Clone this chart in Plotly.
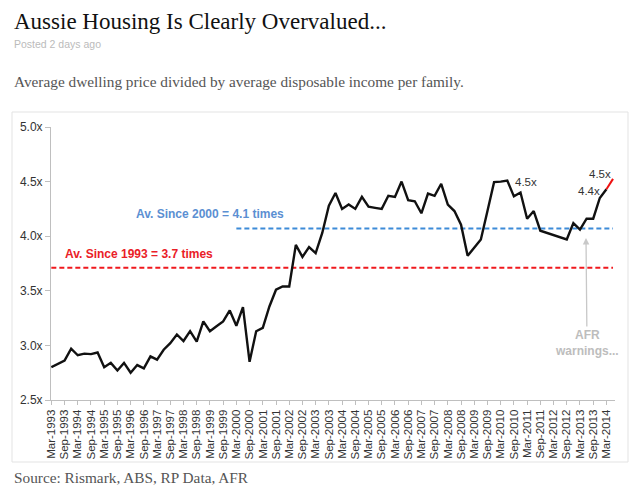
import plotly.graph_objects as go

# ---- data ----
years = list(range(1993, 2015))
months = ["Mar", "Jun", "Sep", "Dec"]
quarters = [f"{m}-{y}" for y in years for m in months][:86]  # Mar-1993 .. Jun-2014

ratio = [
    2.80, 2.83, 2.86, 2.97, 2.91, 2.925, 2.92, 2.935, 2.80, 2.84,
    2.77, 2.84, 2.75, 2.82, 2.79, 2.90, 2.87, 2.96, 3.02, 3.10,
    3.04, 3.13, 3.035, 3.22, 3.13, 3.175, 3.22, 3.32, 3.18, 3.35,
    2.85, 3.13, 3.16, 3.356, 3.51, 3.54, 3.54, 3.92, 3.81, 3.90,
    3.845, 4.03, 4.28, 4.396, 4.25, 4.29, 4.25, 4.36, 4.27, 4.26,
    4.25, 4.37, 4.36, 4.50, 4.33, 4.32, 4.21, 4.39, 4.37, 4.48,
    4.29, 4.23, 4.105, 3.82, 3.90, 3.97, 4.23, 4.495, 4.50, 4.51,
    4.365, 4.40, 4.16, 4.23, 4.05, 4.03, 4.01, 3.99, 3.97, 4.12,
    4.06, 4.16, 4.16, 4.35, 4.43, 4.525,
]

avg_since_1993 = 3.71
avg_since_2000 = 4.07
avg2000_start = "Mar-2000"

tick_labels = [q for q in quarters if q.startswith(("Mar", "Sep"))][:43]
y_ticks = [2.5, 3.0, 3.5, 4.0, 4.5, 5.0]
y_tick_text = ["2.5x", "3.0x", "3.5x", "4.0x", "4.5x", "5.0x"]

# ---- layout geometry (pixels) ----
W_PAGE, H_PAGE = 640, 494
L, R, T, B = 51, 615, 127, 400
PW, PH = R - L, B - T


def px(x):
    return (x - L) / PW


def py(y):
    return (B - y) / PH


fig = go.Figure()

# average lines
fig.add_trace(go.Scatter(
    x=[quarters[0], quarters[-1]], y=[avg_since_1993, avg_since_1993],
    mode="lines", line=dict(color="#f0191e", width=2, dash="5px,3px"),
    hoverinfo="skip", showlegend=False))
i2000 = quarters.index(avg2000_start)
fig.add_trace(go.Scatter(
    x=[quarters[i2000], quarters[-1]], y=[avg_since_2000, avg_since_2000],
    mode="lines", line=dict(color="#3d8bd8", width=2, dash="5px,3px"),
    hoverinfo="skip", showlegend=False))

# main series
fig.add_trace(go.Scatter(
    x=quarters[:85], y=ratio[:85], mode="lines",
    line=dict(color="#111111", width=2.4), showlegend=False))
fig.add_trace(go.Scatter(
    x=quarters[84:], y=ratio[84:], mode="lines",
    line=dict(color="#ee1111", width=2), showlegend=False))

ann = []
serif = "Liberation Serif"
sans = "Liberation Sans"

ann.append(dict(text="Aussie Housing Is Clearly Overvalued...", x=px(12), y=py(21),
                xanchor="left", yanchor="middle",
                font=dict(family=serif, size=23, color="#111111")))
ann.append(dict(text="Posted 2 days ago", x=px(12), y=py(44),
                xanchor="left", yanchor="middle",
                font=dict(family=sans, size=10.5, color="#bbbbbb")))
ann.append(dict(text="Average dwelling price divided by average disposable income per family.",
                x=px(12), y=py(82), xanchor="left", yanchor="middle",
                font=dict(family=serif, size=15.3, color="#555555")))
ann.append(dict(text="Source: Rismark, ABS, RP Data, AFR", x=px(12), y=py(478),
                xanchor="left", yanchor="middle",
                font=dict(family=serif, size=15.3, color="#555555")))

ann.append(dict(text="<b>Av. Since 2000 = 4.1 times</b>", x=px(210), y=py(214),
                xanchor="center", yanchor="middle",
                font=dict(family=sans, size=12, color="#5b8fd2")))
ann.append(dict(text="<b>Av. Since 1993 = 3.7 times</b>", x=px(139), y=py(254),
                xanchor="center", yanchor="middle",
                font=dict(family=sans, size=12, color="#ea2027")))

ann.append(dict(text="4.5x", x=px(526), y=py(182), xanchor="center", yanchor="middle",
                font=dict(family=sans, size=11.5, color="#333333")))
ann.append(dict(text="4.5x", x=px(600), y=py(174), xanchor="center", yanchor="middle",
                font=dict(family=sans, size=11.5, color="#333333")))
ann.append(dict(text="4.4x", x=px(589), y=py(191), xanchor="center", yanchor="middle",
                font=dict(family=sans, size=11.5, color="#333333")))

ann.append(dict(text="<b>AFR<br>warnings...</b>", x=px(586), y=py(238),
                showarrow=True, ax=1, ay=105, arrowhead=2, arrowsize=1,
                arrowwidth=1.3, arrowcolor="#c8c8c8", standoff=0, startstandoff=0,
                font=dict(family=sans, size=12, color="#bdbdbd")))

for a in ann:
    a.setdefault("xref", "paper")
    a.setdefault("yref", "paper")
    a.setdefault("showarrow", False)

fig.update_layout(
    width=W_PAGE, height=H_PAGE,
    margin=dict(l=L, r=W_PAGE - R, t=T, b=H_PAGE - B, pad=0),
    paper_bgcolor="white", plot_bgcolor="white",
    annotations=ann,
    shapes=[dict(type="rect", xref="paper", yref="paper",
                 x0=px(12), x1=px(628), y0=py(462), y1=py(112),
                 line=dict(color="#e3e3e3", width=1), fillcolor="rgba(0,0,0,0)",
                 layer="below")],
    xaxis=dict(type="category", categoryorder="array", categoryarray=quarters,
               range=[-0.05, 85.3], tickmode="array", tickvals=tick_labels,
               ticktext=tick_labels, tickangle=-90, showgrid=False, zeroline=False,
               showline=True, linecolor="#bfbfbf", linewidth=1,
               ticks="outside", ticklen=4, tickcolor="#bfbfbf",
               tickfont=dict(family=sans, size=11.5, color="#333333")),
    yaxis=dict(range=[2.5, 5.0], tickmode="array", tickvals=y_ticks,
               ticktext=y_tick_text, showgrid=False, zeroline=False,
               showline=True, linecolor="#bfbfbf", linewidth=1,
               ticks="outside", ticklen=5, tickcolor="#bfbfbf",
               tickfont=dict(family=sans, size=12, color="#333333")),
    hovermode=False,
)

fig.write_html("out.html", config={"displayModeBar": False},
               post_script="document.body.style.margin='0px';document.body.style.padding='0px';")
